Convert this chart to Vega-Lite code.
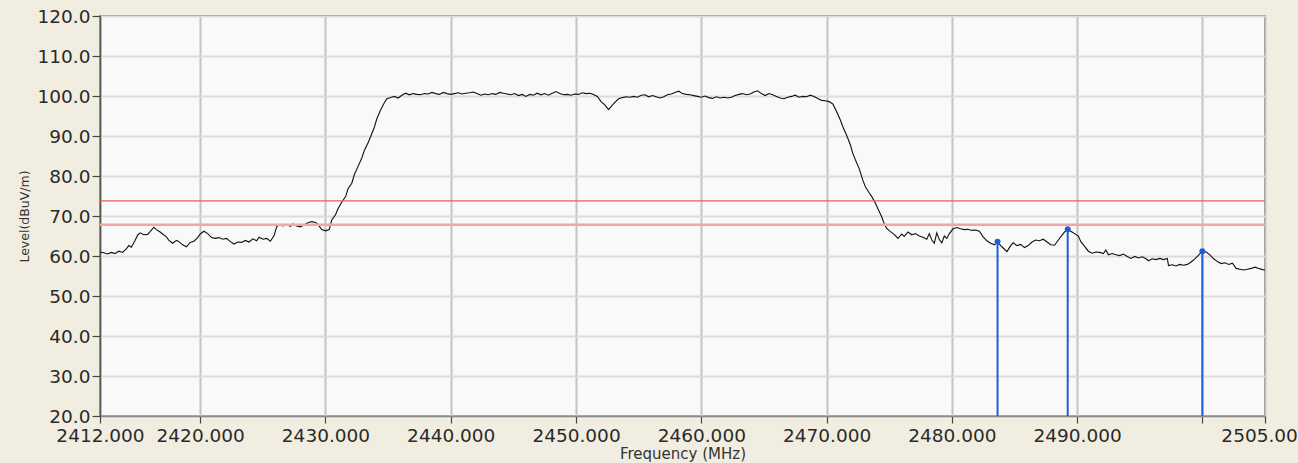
{
  "$schema": "https://vega.github.io/schema/vega-lite/v6.json",
  "width": 1165,
  "height": 400,
  "autosize": {"type": "none"},
  "padding": {"left": 100, "top": 16, "right": 33, "bottom": 47},
  "background": "#F1EEE1",
  "config": {
    "view": {"fill": "#F9F9F9", "stroke": "#5a5a5a", "strokeWidth": 1.5},
    "font": "DejaVu Sans",
    "axisX": {
      "labelFlush": false,
      "labelOverlap": false,
      "labelFontSize": 18.5,
      "labelColor": "#2a2a2a",
      "labelPadding": 3,
      "tickSize": 7,
      "tickColor": "#444444",
      "tickWidth": 1.2,
      "domainColor": "#8a8a8a",
      "domainWidth": 1.5,
      "grid": true,
      "gridColor": "#c4c4c4",
      "gridWidth": 2,
      "titleFontSize": 15,
      "titleFontWeight": "normal",
      "titleColor": "#333333",
      "titlePadding": 2
    },
    "axisY": {
      "labelOverlap": false,
      "labelFontSize": 18.5,
      "labelColor": "#2a2a2a",
      "labelPadding": 2,
      "tickSize": 8,
      "tickColor": "#444444",
      "tickWidth": 1.2,
      "domainColor": "#555555",
      "domainWidth": 1.5,
      "grid": true,
      "gridColor": "#dcdcdc",
      "gridWidth": 2,
      "titleFontSize": 12.5,
      "titleFontWeight": "normal",
      "titleColor": "#333333",
      "titlePadding": 6
    }
  },
  "datasets": {
    "trace": [
      {"freq": 2412.0, "level": 61.0}, {"freq": 2412.3, "level": 60.8}, {"freq": 2412.6, "level": 60.5}, {"freq": 2412.9, "level": 60.9},
      {"freq": 2413.2, "level": 60.6}, {"freq": 2413.5, "level": 61.2}, {"freq": 2413.8, "level": 60.9}, {"freq": 2414.1, "level": 61.8},
      {"freq": 2414.3, "level": 62.6}, {"freq": 2414.5, "level": 62.2}, {"freq": 2414.8, "level": 63.9}, {"freq": 2415.0, "level": 65.2},
      {"freq": 2415.2, "level": 65.8}, {"freq": 2415.5, "level": 65.3}, {"freq": 2415.8, "level": 65.4}, {"freq": 2416.0, "level": 66.1},
      {"freq": 2416.3, "level": 67.2}, {"freq": 2416.5, "level": 66.6}, {"freq": 2416.8, "level": 66.0}, {"freq": 2417.0, "level": 65.5},
      {"freq": 2417.3, "level": 64.8}, {"freq": 2417.5, "level": 63.9}, {"freq": 2417.8, "level": 63.2}, {"freq": 2418.1, "level": 63.9},
      {"freq": 2418.3, "level": 63.6}, {"freq": 2418.6, "level": 62.8}, {"freq": 2418.9, "level": 62.3}, {"freq": 2419.2, "level": 63.4},
      {"freq": 2419.5, "level": 63.7}, {"freq": 2419.8, "level": 64.6}, {"freq": 2420.0, "level": 65.5}, {"freq": 2420.3, "level": 66.2},
      {"freq": 2420.6, "level": 65.6}, {"freq": 2420.9, "level": 64.6}, {"freq": 2421.2, "level": 64.4}, {"freq": 2421.5, "level": 64.6},
      {"freq": 2421.8, "level": 64.2}, {"freq": 2422.1, "level": 64.4}, {"freq": 2422.4, "level": 63.6}, {"freq": 2422.7, "level": 63.0},
      {"freq": 2423.0, "level": 63.5}, {"freq": 2423.3, "level": 63.4}, {"freq": 2423.6, "level": 63.9}, {"freq": 2423.9, "level": 63.5},
      {"freq": 2424.2, "level": 64.3}, {"freq": 2424.5, "level": 63.8}, {"freq": 2424.7, "level": 64.7}, {"freq": 2425.0, "level": 64.2},
      {"freq": 2425.3, "level": 64.4}, {"freq": 2425.6, "level": 63.7}, {"freq": 2425.9, "level": 65.1}, {"freq": 2426.1, "level": 67.3},
      {"freq": 2426.3, "level": 67.8}, {"freq": 2426.6, "level": 67.5}, {"freq": 2426.9, "level": 67.9}, {"freq": 2427.2, "level": 67.4},
      {"freq": 2427.4, "level": 68.0}, {"freq": 2427.7, "level": 67.5}, {"freq": 2428.0, "level": 67.3}, {"freq": 2428.3, "level": 67.8},
      {"freq": 2428.6, "level": 68.3}, {"freq": 2428.9, "level": 68.6}, {"freq": 2429.2, "level": 68.4}, {"freq": 2429.4, "level": 67.9},
      {"freq": 2429.7, "level": 66.6}, {"freq": 2430.0, "level": 66.3}, {"freq": 2430.3, "level": 66.6}, {"freq": 2430.5, "level": 69.0},
      {"freq": 2430.8, "level": 70.3}, {"freq": 2431.0, "level": 71.8}, {"freq": 2431.3, "level": 73.5}, {"freq": 2431.6, "level": 74.8},
      {"freq": 2431.8, "level": 76.8}, {"freq": 2432.1, "level": 78.2}, {"freq": 2432.3, "level": 80.3}, {"freq": 2432.6, "level": 82.4},
      {"freq": 2432.9, "level": 84.5}, {"freq": 2433.1, "level": 86.4}, {"freq": 2433.4, "level": 88.3}, {"freq": 2433.6, "level": 89.8},
      {"freq": 2433.9, "level": 92.2}, {"freq": 2434.1, "level": 94.3}, {"freq": 2434.4, "level": 96.5}, {"freq": 2434.7, "level": 98.3},
      {"freq": 2434.9, "level": 99.3}, {"freq": 2435.2, "level": 99.6}, {"freq": 2435.5, "level": 99.9}, {"freq": 2435.8, "level": 99.5},
      {"freq": 2436.1, "level": 100.2}, {"freq": 2436.4, "level": 100.7}, {"freq": 2436.7, "level": 100.3}, {"freq": 2437.0, "level": 100.6},
      {"freq": 2437.3, "level": 100.4}, {"freq": 2437.6, "level": 100.3}, {"freq": 2437.9, "level": 100.6}, {"freq": 2438.2, "level": 100.5},
      {"freq": 2438.5, "level": 100.9}, {"freq": 2438.8, "level": 100.6}, {"freq": 2439.1, "level": 100.4}, {"freq": 2439.4, "level": 100.9},
      {"freq": 2439.7, "level": 100.6}, {"freq": 2440.0, "level": 100.4}, {"freq": 2440.3, "level": 100.6}, {"freq": 2440.6, "level": 100.8},
      {"freq": 2440.9, "level": 100.5}, {"freq": 2441.2, "level": 100.7}, {"freq": 2441.5, "level": 100.8}, {"freq": 2441.8, "level": 101.0},
      {"freq": 2442.1, "level": 100.6}, {"freq": 2442.4, "level": 100.2}, {"freq": 2442.7, "level": 100.5}, {"freq": 2443.0, "level": 100.3},
      {"freq": 2443.3, "level": 100.6}, {"freq": 2443.6, "level": 100.4}, {"freq": 2443.9, "level": 100.9}, {"freq": 2444.2, "level": 100.7},
      {"freq": 2444.5, "level": 100.5}, {"freq": 2444.8, "level": 100.3}, {"freq": 2445.1, "level": 100.6}, {"freq": 2445.4, "level": 100.1},
      {"freq": 2445.7, "level": 100.4}, {"freq": 2446.0, "level": 99.9}, {"freq": 2446.3, "level": 100.4}, {"freq": 2446.6, "level": 100.2},
      {"freq": 2446.9, "level": 100.7}, {"freq": 2447.2, "level": 100.3}, {"freq": 2447.5, "level": 100.6}, {"freq": 2447.8, "level": 100.2},
      {"freq": 2448.1, "level": 100.7}, {"freq": 2448.4, "level": 101.1}, {"freq": 2448.7, "level": 100.6}, {"freq": 2449.0, "level": 100.3},
      {"freq": 2449.3, "level": 100.4}, {"freq": 2449.6, "level": 100.2}, {"freq": 2449.9, "level": 100.5}, {"freq": 2450.2, "level": 100.4},
      {"freq": 2450.5, "level": 100.8}, {"freq": 2450.8, "level": 100.6}, {"freq": 2451.1, "level": 100.7}, {"freq": 2451.4, "level": 100.4},
      {"freq": 2451.7, "level": 99.9}, {"freq": 2452.0, "level": 98.6}, {"freq": 2452.3, "level": 97.8}, {"freq": 2452.6, "level": 96.6},
      {"freq": 2452.9, "level": 97.7}, {"freq": 2453.1, "level": 98.4}, {"freq": 2453.4, "level": 99.3}, {"freq": 2453.7, "level": 99.6},
      {"freq": 2454.0, "level": 99.8}, {"freq": 2454.3, "level": 99.7}, {"freq": 2454.6, "level": 99.9}, {"freq": 2454.9, "level": 99.7},
      {"freq": 2455.2, "level": 100.2}, {"freq": 2455.5, "level": 100.3}, {"freq": 2455.8, "level": 99.8}, {"freq": 2456.1, "level": 100.1},
      {"freq": 2456.4, "level": 99.8}, {"freq": 2456.7, "level": 99.5}, {"freq": 2457.0, "level": 99.8}, {"freq": 2457.3, "level": 100.3},
      {"freq": 2457.6, "level": 100.5}, {"freq": 2457.9, "level": 100.9}, {"freq": 2458.2, "level": 101.2}, {"freq": 2458.5, "level": 100.6},
      {"freq": 2458.8, "level": 100.4}, {"freq": 2459.1, "level": 100.3}, {"freq": 2459.4, "level": 100.1}, {"freq": 2459.7, "level": 99.9},
      {"freq": 2460.0, "level": 99.7}, {"freq": 2460.3, "level": 100.0}, {"freq": 2460.6, "level": 99.6}, {"freq": 2460.9, "level": 99.4},
      {"freq": 2461.2, "level": 99.8}, {"freq": 2461.5, "level": 99.5}, {"freq": 2461.8, "level": 99.7}, {"freq": 2462.1, "level": 99.5},
      {"freq": 2462.4, "level": 99.7}, {"freq": 2462.7, "level": 100.1}, {"freq": 2463.0, "level": 100.4}, {"freq": 2463.3, "level": 100.6},
      {"freq": 2463.6, "level": 100.3}, {"freq": 2463.9, "level": 100.5}, {"freq": 2464.2, "level": 101.0}, {"freq": 2464.5, "level": 101.3},
      {"freq": 2464.8, "level": 100.6}, {"freq": 2465.1, "level": 100.1}, {"freq": 2465.4, "level": 100.6}, {"freq": 2465.7, "level": 100.3},
      {"freq": 2466.0, "level": 99.9}, {"freq": 2466.3, "level": 99.5}, {"freq": 2466.6, "level": 99.3}, {"freq": 2466.9, "level": 99.7},
      {"freq": 2467.2, "level": 99.9}, {"freq": 2467.5, "level": 100.2}, {"freq": 2467.8, "level": 99.7}, {"freq": 2468.1, "level": 99.9},
      {"freq": 2468.4, "level": 99.8}, {"freq": 2468.7, "level": 100.2}, {"freq": 2469.0, "level": 99.9}, {"freq": 2469.3, "level": 99.4},
      {"freq": 2469.6, "level": 98.9}, {"freq": 2469.9, "level": 98.8}, {"freq": 2470.2, "level": 98.6}, {"freq": 2470.5, "level": 98.0},
      {"freq": 2470.8, "level": 96.1}, {"freq": 2471.1, "level": 94.0}, {"freq": 2471.3, "level": 92.3}, {"freq": 2471.6, "level": 90.2},
      {"freq": 2471.9, "level": 87.8}, {"freq": 2472.1, "level": 85.6}, {"freq": 2472.4, "level": 83.3}, {"freq": 2472.6, "level": 81.9},
      {"freq": 2472.9, "level": 78.9}, {"freq": 2473.1, "level": 77.3}, {"freq": 2473.4, "level": 75.8}, {"freq": 2473.6, "level": 74.9},
      {"freq": 2473.9, "level": 73.2}, {"freq": 2474.1, "level": 71.8}, {"freq": 2474.4, "level": 69.8}, {"freq": 2474.6, "level": 68.1},
      {"freq": 2474.8, "level": 66.9}, {"freq": 2475.1, "level": 66.1}, {"freq": 2475.4, "level": 65.4}, {"freq": 2475.7, "level": 64.4},
      {"freq": 2476.0, "level": 65.5}, {"freq": 2476.2, "level": 64.9}, {"freq": 2476.5, "level": 66.0}, {"freq": 2476.8, "level": 65.3},
      {"freq": 2477.1, "level": 65.6}, {"freq": 2477.4, "level": 65.0}, {"freq": 2477.7, "level": 64.7}, {"freq": 2478.0, "level": 64.2},
      {"freq": 2478.2, "level": 65.6}, {"freq": 2478.4, "level": 64.0}, {"freq": 2478.6, "level": 63.2}, {"freq": 2478.8, "level": 65.8},
      {"freq": 2479.0, "level": 64.1}, {"freq": 2479.2, "level": 63.3}, {"freq": 2479.4, "level": 65.0}, {"freq": 2479.6, "level": 64.4},
      {"freq": 2479.8, "level": 65.6}, {"freq": 2480.1, "level": 66.8}, {"freq": 2480.4, "level": 67.1}, {"freq": 2480.7, "level": 66.8},
      {"freq": 2481.0, "level": 66.6}, {"freq": 2481.3, "level": 66.7}, {"freq": 2481.6, "level": 66.4}, {"freq": 2481.9, "level": 66.5},
      {"freq": 2482.2, "level": 66.2}, {"freq": 2482.5, "level": 64.8}, {"freq": 2482.8, "level": 63.8}, {"freq": 2483.1, "level": 63.2},
      {"freq": 2483.4, "level": 62.8}, {"freq": 2483.65, "level": 63.6}, {"freq": 2483.9, "level": 62.6}, {"freq": 2484.1, "level": 62.0},
      {"freq": 2484.4, "level": 61.1}, {"freq": 2484.7, "level": 62.6}, {"freq": 2484.9, "level": 63.3}, {"freq": 2485.2, "level": 62.6},
      {"freq": 2485.5, "level": 62.9}, {"freq": 2485.8, "level": 62.1}, {"freq": 2486.1, "level": 62.6}, {"freq": 2486.4, "level": 63.5},
      {"freq": 2486.7, "level": 64.0}, {"freq": 2487.0, "level": 63.8}, {"freq": 2487.3, "level": 64.2}, {"freq": 2487.6, "level": 63.5},
      {"freq": 2487.9, "level": 62.8}, {"freq": 2488.2, "level": 62.7}, {"freq": 2488.5, "level": 64.0}, {"freq": 2488.8, "level": 65.2},
      {"freq": 2489.0, "level": 66.0}, {"freq": 2489.25, "level": 66.7}, {"freq": 2489.5, "level": 66.2}, {"freq": 2489.8, "level": 65.6},
      {"freq": 2490.1, "level": 65.0}, {"freq": 2490.3, "level": 63.6}, {"freq": 2490.6, "level": 62.4}, {"freq": 2490.9, "level": 61.2},
      {"freq": 2491.2, "level": 60.7}, {"freq": 2491.5, "level": 61.0}, {"freq": 2491.8, "level": 60.9}, {"freq": 2492.1, "level": 60.6},
      {"freq": 2492.3, "level": 61.5}, {"freq": 2492.5, "level": 60.3}, {"freq": 2492.8, "level": 60.6}, {"freq": 2493.1, "level": 60.3},
      {"freq": 2493.4, "level": 60.1}, {"freq": 2493.7, "level": 60.5}, {"freq": 2494.0, "level": 59.9}, {"freq": 2494.3, "level": 59.4},
      {"freq": 2494.6, "level": 59.9}, {"freq": 2494.9, "level": 59.5}, {"freq": 2495.2, "level": 59.8}, {"freq": 2495.5, "level": 59.3},
      {"freq": 2495.7, "level": 58.8}, {"freq": 2496.0, "level": 59.3}, {"freq": 2496.3, "level": 59.1}, {"freq": 2496.6, "level": 59.4},
      {"freq": 2496.9, "level": 59.1}, {"freq": 2497.2, "level": 59.4}, {"freq": 2497.3, "level": 57.6}, {"freq": 2497.6, "level": 57.8},
      {"freq": 2497.9, "level": 57.5}, {"freq": 2498.2, "level": 57.9}, {"freq": 2498.5, "level": 57.7}, {"freq": 2498.8, "level": 57.9},
      {"freq": 2499.1, "level": 58.5}, {"freq": 2499.4, "level": 59.3}, {"freq": 2499.7, "level": 60.2}, {"freq": 2500.0, "level": 61.2},
      {"freq": 2500.3, "level": 61.0}, {"freq": 2500.6, "level": 60.3}, {"freq": 2500.9, "level": 59.3}, {"freq": 2501.2, "level": 58.6},
      {"freq": 2501.5, "level": 58.1}, {"freq": 2501.8, "level": 58.3}, {"freq": 2502.1, "level": 57.9}, {"freq": 2502.4, "level": 58.2},
      {"freq": 2502.7, "level": 56.9}, {"freq": 2503.0, "level": 56.7}, {"freq": 2503.3, "level": 56.5}, {"freq": 2503.6, "level": 56.7},
      {"freq": 2503.9, "level": 56.9}, {"freq": 2504.2, "level": 57.2}, {"freq": 2504.5, "level": 56.9}, {"freq": 2504.8, "level": 56.6},
      {"freq": 2505.0, "level": 56.5}
    ],
    "markers": [
      {"freq": 2483.65, "level": 63.6},
      {"freq": 2489.25, "level": 66.7},
      {"freq": 2500.0, "level": 61.2}
    ],
    "limits": [
      {"kind": "upper", "level": 73.8},
      {"kind": "lower", "level": 67.8}
    ]
  },
  "layer": [
    {
      "data": {"name": "trace"},
      "mark": {"type": "line", "color": "#111111", "strokeWidth": 1.1, "interpolate": "linear"},
      "encoding": {
        "x": {
          "field": "freq", "type": "quantitative",
          "scale": {"domain": [2412, 2505], "nice": false, "zero": false},
          "axis": {
            "title": "Frequency (MHz)",
            "values": [2412, 2420, 2430, 2440, 2450, 2460, 2470, 2480, 2490, 2500, 2505],
            "labelExpr": "datum.value == 2500 ? '' : format(datum.value, '.3f')",
            "labelOverlap": false,
            "labelFlush": false
          }
        },
        "y": {
          "field": "level", "type": "quantitative",
          "scale": {"domain": [20, 120], "nice": false, "zero": false},
          "axis": {
            "title": "Level(dBuV/m)",
            "values": [20, 30, 40, 50, 60, 70, 80, 90, 100, 110, 120],
            "format": ".1f",
            "labelOverlap": false,
            "labelBound": false,
            "labelFlush": false
          }
        }
      }
    },
    {
      "data": {"name": "limits"},
      "mark": {"type": "rule"},
      "encoding": {
        "y": {
          "field": "level", "type": "quantitative",
          "axis": {
            "title": "Level(dBuV/m)",
            "values": [20, 30, 40, 50, 60, 70, 80, 90, 100, 110, 120],
            "format": ".1f",
            "labelOverlap": false,
            "labelBound": false,
            "labelFlush": false
          }
        },
        "color": {"field": "kind", "type": "nominal", "scale": {"domain": ["upper", "lower"], "range": ["#e06060", "#f4a4a4"]}, "legend": null},
        "strokeWidth": {"field": "kind", "type": "nominal", "scale": {"domain": ["upper", "lower"], "range": [1.3, 2.5]}, "legend": null}
      }
    },
    {
      "data": {"name": "markers"},
      "mark": {"type": "rule", "color": "#1f5fd6", "strokeWidth": 2},
      "encoding": {
        "x": {
          "field": "freq", "type": "quantitative",
          "axis": {
            "title": "Frequency (MHz)",
            "values": [2412, 2420, 2430, 2440, 2450, 2460, 2470, 2480, 2490, 2500, 2505],
            "labelExpr": "datum.value == 2500 ? '' : format(datum.value, '.3f')",
            "labelOverlap": false,
            "labelFlush": false
          }
        },
        "y": {
          "field": "level", "type": "quantitative",
          "axis": {
            "title": "Level(dBuV/m)",
            "values": [20, 30, 40, 50, 60, 70, 80, 90, 100, 110, 120],
            "format": ".1f",
            "labelOverlap": false,
            "labelBound": false,
            "labelFlush": false
          }
        },
        "y2": {"datum": 20}
      }
    },
    {
      "data": {"name": "markers"},
      "mark": {"type": "point", "filled": true, "color": "#1f5fd6", "size": 35, "opacity": 1},
      "encoding": {
        "x": {
          "field": "freq", "type": "quantitative",
          "axis": {
            "title": "Frequency (MHz)",
            "values": [2412, 2420, 2430, 2440, 2450, 2460, 2470, 2480, 2490, 2500, 2505],
            "labelExpr": "datum.value == 2500 ? '' : format(datum.value, '.3f')",
            "labelOverlap": false,
            "labelFlush": false
          }
        },
        "y": {
          "field": "level", "type": "quantitative",
          "axis": {
            "title": "Level(dBuV/m)",
            "values": [20, 30, 40, 50, 60, 70, 80, 90, 100, 110, 120],
            "format": ".1f",
            "labelOverlap": false,
            "labelBound": false,
            "labelFlush": false
          }
        }
      }
    }
  ]
}
